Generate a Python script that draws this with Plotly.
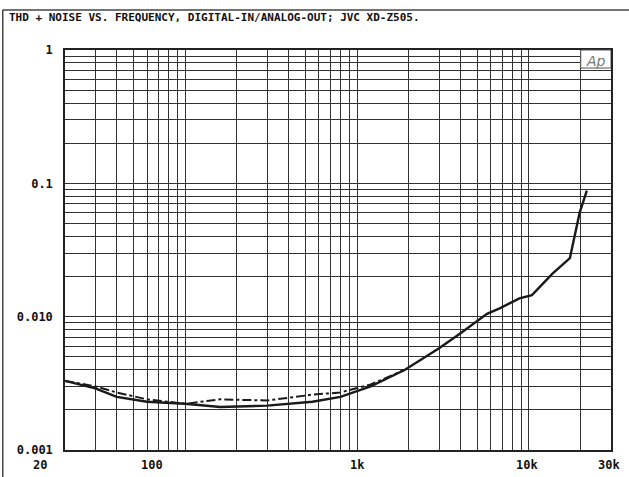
import math
import plotly.graph_objects as go

# THD+N vs frequency
freq_solid = [20, 30, 40, 60, 100, 160, 300, 550, 800, 1200, 1900, 3000,
              4000, 5700, 6800, 8800, 10400, 13700, 17300, 19700, 21700]
thd_solid = [0.0033, 0.0029, 0.0025, 0.0023, 0.00222, 0.0021, 0.00215,
             0.0023, 0.0025, 0.0030, 0.0040, 0.0058, 0.0075, 0.0105,
             0.0116, 0.0137, 0.0145, 0.021, 0.0275, 0.060, 0.088]

freq_dash = [20, 30, 40, 60, 100, 160, 300, 550, 800, 1200, 1900]
thd_dash = [0.0033, 0.0030, 0.0027, 0.0024, 0.00222, 0.0024, 0.00235,
            0.0026, 0.0027, 0.0031, 0.0040]

y_labels = {0.001: "0.001", 0.01: "0.010", 0.1: "0.1", 1: "1"}
x_labels = [(20.01, "20", -25), (100, "100", -33), (1000, "1k", 0),
            (10000, "10k", -2), (29990, "30k", -2)]

# grid positions (1..9 per decade)
x_grid = [m * 10 ** e for e in range(1, 5) for m in range(1, 10)]
x_grid = [v for v in x_grid if 20 <= v <= 30000]
y_grid = [round(m * 10 ** e, 6) for e in range(-3, 0) for m in range(1, 10)] + [1]

fig = go.Figure()
fig.add_trace(go.Scatter(x=freq_dash, y=thd_dash, mode="lines",
                         line=dict(color="#1a1a1a", width=2, dash="dashdot")))
fig.add_trace(go.Scatter(x=freq_solid, y=thd_solid, mode="lines",
                         line=dict(color="#1a1a1a", width=2.4)))

grid = dict(showgrid=True, gridcolor="#333", gridwidth=1, showline=True,
            linecolor="#222", linewidth=1.5, mirror=True, ticks="", zeroline=False)

fig.update_xaxes(type="log", range=[1.30103, 4.4771213], tickvals=x_grid,
                 ticktext=[""] * len(x_grid), **grid)
fig.update_yaxes(type="log", range=[-3, 0], tickvals=y_grid,
                 ticktext=[y_labels.get(v, "") for v in y_grid],
                 tickfont=dict(family="DejaVu Sans Mono", size=12, color="#111",
                               weight="bold"),
                 ticklabelstandoff=8, **grid)

# x labels (annotations on a log axis take log10 positions)
for xv, txt, dx in x_labels:
    fig.add_annotation(x=math.log10(xv), xref="x", y=0, yref="paper", yanchor="top",
                       yshift=-6, xshift=dx, text=txt, showarrow=False,
                       font=dict(family="DejaVu Sans Mono", size=12, color="#111",
                                 weight="bold"))

fig.add_annotation(x=-0.106, xref="paper", y=1.082, yref="paper", xanchor="left",
                   yanchor="middle", showarrow=False,
                   text="THD + NOISE VS. FREQUENCY, DIGITAL-IN/ANALOG-OUT; JVC XD-Z505.",
                   font=dict(family="DejaVu Sans Mono", size=11, color="#111",
                             weight="bold"))

# Ap logo box
fig.add_shape(type="rect", xref="x", yref="paper", x0=20000, x1=30000, y0=0.955, y1=1,
              fillcolor="white", line=dict(color="#555", width=1), layer="above")
fig.add_annotation(x=math.log10(24500), xref="x", y=1, yref="paper", yanchor="top",
                   yshift=-1, showarrow=False, text="<i>Ap</i>",
                   font=dict(family="DejaVu Sans", size=14, color="#777"))

# outer frame of the scan
fig.add_shape(type="line", xref="paper", yref="paper", x0=-0.114, x1=1.04,
              y0=1.1, y1=1.1, line=dict(color="#444", width=1.5))
fig.add_shape(type="line", xref="paper", yref="paper", x0=-0.114, x1=-0.114,
              y0=1.1, y1=-0.07, line=dict(color="#444", width=1.5))

fig.update_layout(width=629, height=477, showlegend=False,
                  margin=dict(l=65, r=18, t=50, b=27),
                  paper_bgcolor="white", plot_bgcolor="white")

fig.write_html("out.html", config={"displayModeBar": False},
               post_script="document.body.style.margin='0';")
